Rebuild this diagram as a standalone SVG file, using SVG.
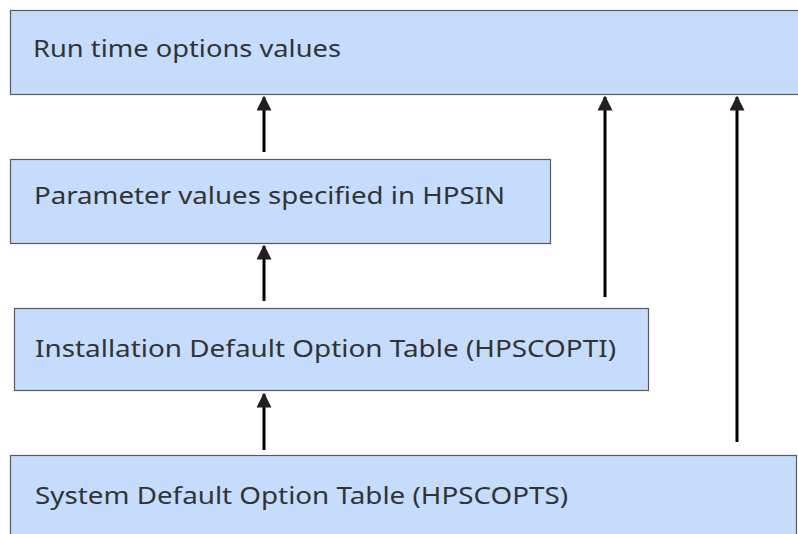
<svg xmlns="http://www.w3.org/2000/svg" width="798" height="534" viewBox="0 0 798 534">
<style>
.box{fill:#c6dcfc;stroke:#5a5a5a;stroke-width:1.2}
.lbl{font-family:"Noto Sans","Open Sans",sans-serif;font-size:23px;fill:#333}
.conn{stroke:#000;stroke-width:3;fill:none;marker-end:url(#ah)}
</style>
<defs>
<marker id="ah" viewBox="0 0 10 10" refX="9" refY="5" markerWidth="5" markerHeight="5" markerUnits="strokeWidth" orient="auto">
<path d="M0,0 L10,5 L0,10 z" fill="#231f20"/>
</marker>
</defs>
<rect width="798" height="534" fill="#fff"/>
<g id="n1"><rect class="box" x="10.5" y="10.5" width="795" height="84"/><text class="lbl" x="33" y="57" textLength="308" lengthAdjust="spacingAndGlyphs">Run time options values</text></g>
<g id="n2"><rect class="box" x="10.5" y="159.5" width="540" height="84"/><text class="lbl" x="34" y="204" textLength="471" lengthAdjust="spacingAndGlyphs">Parameter values specified in HPSIN</text></g>
<g id="n3"><rect class="box" x="14.5" y="308.5" width="634" height="82"/><text class="lbl" x="35" y="357" textLength="581" lengthAdjust="spacingAndGlyphs">Installation Default Option Table (HPSCOPTI)</text></g>
<g id="n4"><rect class="box" x="10.5" y="455.5" width="786" height="90"/><text class="lbl" x="35" y="504" textLength="533" lengthAdjust="spacingAndGlyphs">System Default Option Table (HPSCOPTS)</text></g>
<g id="connectors">
<line class="conn" x1="264" y1="152" x2="264" y2="97"/>
<line class="conn" x1="264" y1="301" x2="264" y2="246"/>
<line class="conn" x1="264" y1="450" x2="264" y2="394"/>
<line class="conn" x1="605" y1="297" x2="605" y2="97"/>
<line class="conn" x1="737" y1="442" x2="737" y2="97"/>
</g>
</svg>
